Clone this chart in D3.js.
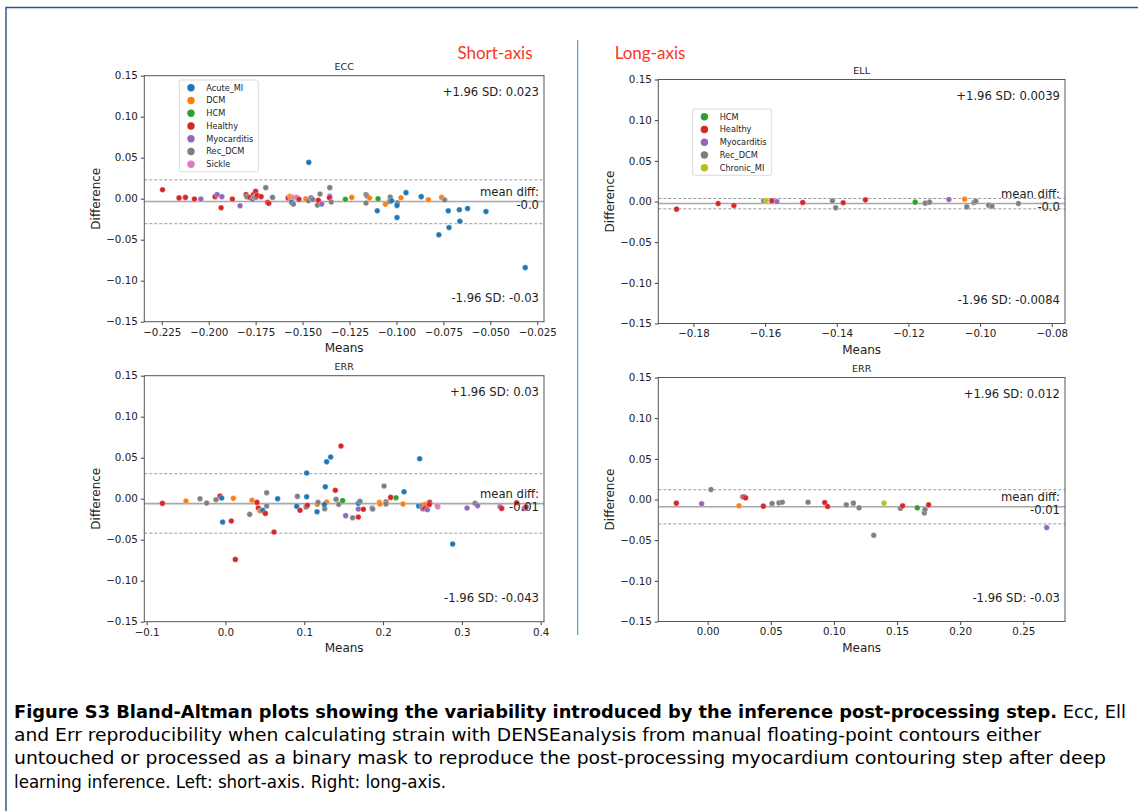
<!DOCTYPE html>
<html lang="en">
<head>
  <meta charset="UTF-8">
  <title>Bland-Altman plots</title>
  <script src="https://d3js.org/d3.v7.min.js"></script>
  <style>
    html, body { margin: 0; background: #fff; }
    svg { display: block; font-family: "DejaVu Sans", sans-serif; }
    .tick text { fill: #222; }
  </style>
</head>
<body>
<svg id="chart" width="1138" height="811"></svg>
<script>
  // group names and matplotlib tab10 colours
  const groupNames = ["Acute_MI", "DCM", "HCM", "Healthy", "Myocarditis", "Rec_DCM", "Sickle", "Chronic_MI"];
  const groupColors = ["#1f77b4", "#ff7f0e", "#2ca02c", "#d62728", "#9467bd", "#7f7f7f", "#e377c2", "#bcbd22"];

  // [group, mean, difference]
  const eccPoints = [
    ["Healthy", -0.2246, 0.011], ["Healthy", -0.2158, 0.001], ["Healthy", -0.2124, 0.0016],
    ["Healthy", -0.2076, -0.0004], ["Myocarditis", -0.2042, -0.0004], ["Healthy", -0.1966, 0.0025],
    ["Myocarditis", -0.1955, 0.005], ["Myocarditis", -0.193, 0.0025], ["Healthy", -0.1934, -0.011],
    ["Healthy", -0.1874, -0.0004], ["Myocarditis", -0.1833, -0.0086], ["Healthy", -0.1801, 0.005],
    ["Rec_DCM", -0.1797, 0.0025], ["Healthy", -0.178, 0.0016], ["Rec_DCM", -0.1767, -0.001],
    ["Healthy", -0.1762, 0.005], ["Healthy", -0.175, 0.009], ["Rec_DCM", -0.1758, 0.002],
    ["Myocarditis", -0.1748, 0.0016], ["Healthy", -0.1742, 0.004], ["Healthy", -0.1721, 0.0025],
    ["Rec_DCM", -0.1696, 0.0135], ["Healthy", -0.1686, -0.0045], ["Healthy", -0.168, -0.0057],
    ["Rec_DCM", -0.166, 0.0016], ["Healthy", -0.1577, 0.001], ["DCM", -0.1567, 0.003],
    ["DCM", -0.1563, 0.0012], ["Sickle", -0.1549, 0.0016], ["Sickle", -0.1531, 0.0016],
    ["Acute_MI", -0.1558, -0.0045], ["Rec_DCM", -0.1549, -0.0066], ["Healthy", -0.1519, -0.0008],
    ["DCM", -0.1483, 0], ["Acute_MI", -0.1467, 0.0443], ["Rec_DCM", -0.1469, -0.0025],
    ["Myocarditis", -0.1455, 0.0012], ["Rec_DCM", -0.1446, -0.001], ["Rec_DCM", -0.1421, -0.0078],
    ["Healthy", -0.1416, -0.002], ["Rec_DCM", -0.1407, 0.0057], ["Myocarditis", -0.1398, -0.0066],
    ["Rec_DCM", -0.1355, 0.0135], ["Myocarditis", -0.1355, 0.0028], ["Healthy", -0.1357, 0.0012],
    ["Rec_DCM", -0.1347, -0.0041], ["HCM", -0.1272, -0.0008], ["DCM", -0.1238, 0.0016],
    ["Rec_DCM", -0.1162, 0.005], ["Rec_DCM", -0.1155, 0.003], ["DCM", -0.1143, 0.0008],
    ["Rec_DCM", -0.1162, -0.0053], ["Acute_MI", -0.1102, -0.0148], ["HCM", -0.1098, 0],
    ["DCM", -0.1059, -0.0066], ["Rec_DCM", -0.1033, 0.002], ["Rec_DCM", -0.1036, -0.0033],
    ["Acute_MI", -0.1026, -0.0025], ["Rec_DCM", -0.0995, -0.005], ["Acute_MI", -0.0997, -0.0082],
    ["Acute_MI", -0.0997, -0.023], ["DCM", -0.0976, 0.0012], ["Acute_MI", -0.0949, 0.0074],
    ["Acute_MI", -0.0868, 0.0025], ["DCM", -0.083, -0.0012], ["DCM", -0.0759, 0.0016],
    ["Rec_DCM", -0.0743, -0.0016], ["Acute_MI", -0.0774, -0.0439], ["Acute_MI", -0.0724, -0.0148],
    ["Acute_MI", -0.072, -0.0352], ["Acute_MI", -0.0665, -0.0135], ["Acute_MI", -0.0662, -0.0275],
    ["Acute_MI", -0.0621, -0.0119], ["Acute_MI", -0.0523, -0.0156], ["Acute_MI", -0.0314, -0.084]
  ];

  const ellPoints = [
    ["Healthy", -0.1847, -0.0094], ["Healthy", -0.1731, -0.0025], ["Healthy", -0.1687, -0.0049],
    ["Rec_DCM", -0.1604, 0.0008], ["Chronic_MI", -0.1597, 0.0012], ["Healthy", -0.1581, 0.0008],
    ["Myocarditis", -0.1567, 0], ["Healthy", -0.1495, -0.0012], ["Rec_DCM", -0.1412, 0.0008],
    ["Rec_DCM", -0.1403, -0.0078], ["Healthy", -0.1382, -0.0016], ["Healthy", -0.132, 0.002],
    ["HCM", -0.1181, -0.0008], ["Rec_DCM", -0.1153, -0.002], ["Rec_DCM", -0.1141, -0.0008],
    ["Myocarditis", -0.1087, 0.0025], ["DCM", -0.1043, 0.0029], ["Rec_DCM", -0.1037, -0.0066],
    ["Rec_DCM", -0.1017, -0.0012], ["Rec_DCM", -0.1012, 0.0004], ["Rec_DCM", -0.0976, -0.0045],
    ["Rec_DCM", -0.0967, -0.0057], ["Rec_DCM", -0.0893, -0.0025]
  ];

  const errShortPoints = [
    ["Healthy", -0.0801, -0.0057], ["DCM", -0.0501, -0.0028], ["Rec_DCM", -0.0323, 0],
    ["Rec_DCM", -0.0239, -0.0053], ["Rec_DCM", -0.012, -0.0012], ["Healthy", -0.0069, 0.0033],
    ["Acute_MI", -0.0048, 0.0008], ["Acute_MI", -0.0036, -0.0285], ["DCM", 0.010, 0.0004],
    ["Healthy", 0.0074, -0.0272], ["Healthy", 0.0125, -0.074], ["Rec_DCM", 0.0307, -0.0191],
    ["DCM", 0.0337, -0.002], ["Healthy", 0.04, -0.0045], ["Healthy", 0.0417, -0.0114],
    ["DCM", 0.0438, -0.015], ["Acute_MI", 0.0472, -0.0142], ["Healthy", 0.0506, -0.0179],
    ["Rec_DCM", 0.0523, 0.0073], ["Rec_DCM", 0.0523, -0.0089], ["Healthy", 0.0616, -0.0407],
    ["Acute_MI", 0.0662, 0], ["Acute_MI", 0.0904, -0.0093], ["Rec_DCM", 0.0912, 0.0028],
    ["Healthy", 0.0946, -0.0142], ["Acute_MI", 0.103, 0.0313], ["Acute_MI", 0.103, 0.0024],
    ["Rec_DCM", 0.1022, -0.0102], ["Healthy", 0.1039, -0.0081], ["Acute_MI", 0.1162, -0.0159],
    ["DCM", 0.1166, -0.0069], ["Rec_DCM", 0.1174, -0.0045], ["Acute_MI", 0.1267, 0.0146],
    ["Acute_MI", 0.1284, 0.0451], ["Acute_MI", 0.1335, 0.0508], ["Rec_DCM", 0.1259, -0.0122],
    ["DCM", 0.1284, -0.0041], ["Acute_MI", 0.1255, -0.007], ["Healthy", 0.1466, 0.0642],
    ["Healthy", 0.1394, 0.0102], ["Rec_DCM", 0.1403, -0.0008], ["Rec_DCM", 0.1437, -0.0069],
    ["HCM", 0.1487, -0.0024], ["Myocarditis", 0.1525, -0.0207], ["Rec_DCM", 0.1614, -0.0232],
    ["Healthy", 0.1686, -0.0224], ["Myocarditis", 0.1686, -0.0126], ["Acute_MI", 0.1686, -0.0057],
    ["Rec_DCM", 0.1707, -0.0033], ["Healthy", 0.175, -0.013], ["Myocarditis", 0.186, -0.0114],
    ["Rec_DCM", 0.1868, -0.0126], ["DCM", 0.1953, -0.0045], ["DCM", 0.1961, -0.0065],
    ["Rec_DCM", 0.2012, 0.0154], ["Rec_DCM", 0.2037, -0.0037], ["Rec_DCM", 0.2037, -0.0065],
    ["Healthy", 0.2096, 0.0016], ["HCM", 0.2164, 0.0012], ["DCM", 0.2253, -0.0065],
    ["Acute_MI", 0.2266, 0.0085], ["Acute_MI", 0.2464, 0.0488], ["Acute_MI", 0.2452, -0.0089],
    ["Rec_DCM", 0.249, -0.0085], ["Myocarditis", 0.2503, -0.0122], ["DCM", 0.2532, -0.0069],
    ["Healthy", 0.2532, -0.0118], ["Myocarditis", 0.2562, -0.0134], ["Healthy", 0.2591, -0.0045],
    ["Healthy", 0.2587, -0.007], ["Rec_DCM", 0.2693, -0.0098], ["Sickle", 0.2689, -0.0085],
    ["Acute_MI", 0.2883, -0.0553], ["Myocarditis", 0.3065, -0.0114], ["Rec_DCM", 0.3167, -0.0057],
    ["Myocarditis", 0.32, -0.0085], ["Myocarditis", 0.3484, -0.0098], ["Healthy", 0.3505, -0.0118],
    ["Healthy", 0.3695, -0.005], ["Myocarditis", 0.3793, -0.0118], ["Healthy", 0.3814, -0.0102]
  ];

  const errLongPoints = [
    ["Healthy", -0.0248, -0.0045], ["Myocarditis", -0.0048, -0.0053], ["Rec_DCM", 0.0026, 0.0123],
    ["DCM", 0.0248, -0.0078], ["Rec_DCM", 0.0277, 0.0033], ["Healthy", 0.029, 0.0029],
    ["Healthy", 0.0301, 0.002], ["Healthy", 0.0441, -0.0082], ["Rec_DCM", 0.051, -0.0049],
    ["Rec_DCM", 0.0565, -0.0041], ["Rec_DCM", 0.0591, -0.0033], ["Rec_DCM", 0.0795, -0.0033],
    ["Healthy", 0.0927, -0.0037], ["Healthy", 0.095, -0.0086], ["Rec_DCM", 0.1098, -0.0066],
    ["Rec_DCM", 0.1154, -0.0045], ["Rec_DCM", 0.1199, -0.0102], ["Rec_DCM", 0.1315, -0.0439],
    ["Chronic_MI", 0.1397, -0.0045], ["Rec_DCM", 0.1526, -0.0107], ["Healthy", 0.1544, -0.0078],
    ["HCM", 0.166, -0.0102], ["Rec_DCM", 0.1716, -0.0164], ["Rec_DCM", 0.1721, -0.0123],
    ["Healthy", 0.175, -0.0066], ["Myocarditis", 0.2685, -0.0344]
  ];

  // [+1.96 SD, mean, -1.96 SD]
  const eccLimits = [0.023, -0.0035, -0.0305];
  const ellLimits = [0.0037, -0.0025, -0.009];
  const errShortLimits = [0.0305, -0.006, -0.042];
  const errLongLimits = [0.012, -0.009, -0.03];

  const eccLabels = ["+1.96 SD: 0.023", "-0.0", "-1.96 SD: -0.03"];
  const ellLabels = ["+1.96 SD: 0.0039", "-0.0", "-1.96 SD: -0.0084"];
  const errShortLabels = ["+1.96 SD: 0.03", "-0.01", "-1.96 SD: -0.043"];
  const errLongLabels = ["+1.96 SD: 0.012", "-0.01", "-1.96 SD: -0.03"];

  // axis limits and ticks
  const eccXLim = [-0.2343, -0.0214];
  const ellXLim = [-0.1898, -0.0763];
  const errShortXLim = [-0.103, 0.4042];
  const errLongXLim = [-0.0391, 0.283];
  const yLim = [-0.15, 0.15];
  const yTicks = [-0.15, -0.10, -0.05, 0, 0.05, 0.10, 0.15];
  const eccXTicks = [-0.225, -0.2, -0.175, -0.15, -0.125, -0.1, -0.075, -0.05, -0.025];
  const ellXTicks = [-0.18, -0.16, -0.14, -0.12, -0.10, -0.08];
  const errShortXTicks = [-0.1, 0, 0.1, 0.2, 0.3, 0.4];
  const errLongXTicks = [0, 0.05, 0.10, 0.15, 0.20, 0.25];

  const shortLegend = ["Acute_MI", "DCM", "HCM", "Healthy", "Myocarditis", "Rec_DCM", "Sickle"];
  const longLegend = ["HCM", "Healthy", "Myocarditis", "Rec_DCM", "Chronic_MI"];

  const captionLines = [
    ["Figure S3 Bland-Altman plots showing the variability introduced by the inference post-processing step.", " Ecc, Ell"],
    ["", "and Err reproducibility when calculating strain with DENSEanalysis from manual floating-point contours either"],
    ["", "untouched or processed as a binary mask to reproduce the post-processing myocardium contouring step after deep"],
    ["", "learning inference. Left: short-axis. Right: long-axis."]
  ];
  const captionWidths = [1112, 1027, 1092, 432];

  const color = d3.scaleOrdinal().domain(groupNames).range(groupColors);
  const minus = s => s.replace(/-/g, "\u2212");

  const svg = d3.select("#chart");
  svg.append("rect").attr("width", 1138).attr("height", 811).attr("fill", "#fff");

  // page frame
  svg.append("path")
    .attr("d", "M6,811 V7.5 H1138")
    .attr("fill", "none").attr("stroke", "#2a5a8c").attr("stroke-width", 1.5);

  // section headings and divider
  svg.append("text").attr("x", 495).attr("y", 59).attr("text-anchor", "middle")
    .style("font-family", "Lato, 'Open Sans', sans-serif").style("font-size", "17px")
    .attr("fill", "#f5381f").text("Short-axis");
  svg.append("text").attr("x", 650).attr("y", 59).attr("text-anchor", "middle")
    .style("font-family", "Lato, 'Open Sans', sans-serif").style("font-size", "17px")
    .attr("fill", "#f5381f").text("Long-axis");
  svg.append("line").attr("x1", 577.7).attr("x2", 577.7).attr("y1", 40).attr("y2", 635)
    .attr("stroke", "#4aa0c8").attr("stroke-width", 1.2);

  function drawPanel(p) {
    const x = d3.scaleLinear().domain(p.xLim).range([p.left, p.right]);
    const y = d3.scaleLinear().domain(yLim).range([p.bottom, p.top]);
    const g = svg.append("g");

    // limit lines
    const [up, mean, low] = p.limits;
    [up, low].forEach(v => {
      g.append("line").attr("x1", p.left).attr("x2", p.right)
        .attr("y1", y(v)).attr("y2", y(v))
        .attr("stroke", "#9a9a9a").attr("stroke-width", 1).attr("stroke-dasharray", "3,2");
    });
    g.append("line").attr("x1", p.left).attr("x2", p.right)
      .attr("y1", y(mean)).attr("y2", y(mean))
      .attr("stroke", "#a8a8a8").attr("stroke-width", 1.6);

    // points
    g.selectAll("circle.pt").data(p.points).enter().append("circle")
      .attr("class", "pt")
      .attr("cx", d => x(d[1])).attr("cy", d => y(d[2])).attr("r", 2.8)
      .attr("fill", d => color(d[0]))
      .attr("stroke", "#fff").attr("stroke-width", 0.3);

    // axes
    const xAxis = g.append("g").attr("transform", `translate(0,${p.bottom})`)
      .call(d3.axisBottom(x).tickValues(p.xTicks).tickSize(3.5).tickPadding(3)
        .tickFormat(v => minus(d3.format(p.xFmt)(v))));
    const yAxis = g.append("g").attr("transform", `translate(${p.left},0)`)
      .call(d3.axisLeft(y).tickValues(yTicks).tickSize(3.5).tickPadding(3)
        .tickFormat(v => minus(d3.format(".2f")(v))));
    [xAxis, yAxis].forEach(a => {
      a.select(".domain").remove();
      a.selectAll(".tick line").attr("stroke", "#444");
      a.selectAll(".tick text").style("font-size", "10.3px").style("font-family", "DejaVu Sans");
    });
    g.append("rect").attr("x", p.left).attr("y", p.top)
      .attr("width", p.right - p.left).attr("height", p.bottom - p.top)
      .attr("fill", "none").attr("stroke", "#555").attr("stroke-width", 1);

    // titles and labels
    g.append("text").attr("x", (p.left + p.right) / 2).attr("y", p.top - 5.5)
      .attr("text-anchor", "middle").style("font-size", "9.5px").attr("fill", "#222").text(p.title);
    g.append("text").attr("x", (p.left + p.right) / 2).attr("y", p.bottom + 30.5)
      .attr("text-anchor", "middle").style("font-size", "12px").attr("fill", "#222").text("Means");
    g.append("text")
      .attr("transform", `translate(${p.left - 49},${(p.top + p.bottom) / 2}) rotate(-90)`)
      .attr("text-anchor", "middle").attr("dy", "0.35em")
      .style("font-size", "12px").attr("fill", "#222").text("Difference");

    // annotations
    const tx = p.right - 5;
    const ann = (yy, t) => g.append("text").attr("x", tx).attr("y", yy)
      .attr("text-anchor", "end").style("font-size", "11.6px").attr("fill", "#222").text(t);
    ann(p.top + 20, p.labels[0]);
    ann(y(mean) - 6, "mean diff:");
    ann(y(mean) + 7, p.labels[1]);
    ann(p.bottom - 19.7, p.labels[2]);

    // legend (only where the panel has one)
    if (!p.legend.length) return;
    const lg = g.append("g").attr("transform", `translate(${p.left + p.legendDx},${p.top + p.legendDy})`);
    const rowH = 12.75;
    lg.append("rect").attr("x", 0).attr("y", 0)
      .attr("width", 79).attr("height", p.legend.length * rowH + 2.5)
      .attr("rx", 2).attr("fill", "#fff").attr("fill-opacity", 0.8)
      .attr("stroke", "#d6d6d6").attr("stroke-width", 0.9);
    p.legend.forEach((name, i) => {
      const cy = 7.7 + i * rowH;
      lg.append("circle").attr("cx", 11.7).attr("cy", cy).attr("r", 3.7).attr("fill", color(name));
      lg.append("text").attr("x", 27).attr("y", cy + 3)
        .style("font-size", "8.2px").attr("fill", "#222").text(name);
    });
  }

  drawPanel({
    left: 144.3, right: 544, top: 75.7, bottom: 321.7, xLim: eccXLim, xTicks: eccXTicks, xFmt: ".3f",
    points: eccPoints, limits: eccLimits, labels: eccLabels, title: "ECC",
    legend: shortLegend, legendDx: 35, legendDy: 4.3
  });
  drawPanel({
    left: 658.3, right: 1065, top: 79.5, bottom: 323.5, xLim: ellXLim, xTicks: ellXTicks, xFmt: ".2f",
    points: ellPoints, limits: ellLimits, labels: ellLabels, title: "ELL",
    legend: longLegend, legendDx: 34.4, legendDy: 29.5
  });
  drawPanel({
    left: 144.3, right: 544, top: 375.7, bottom: 621.7, xLim: errShortXLim, xTicks: errShortXTicks, xFmt: ".1f",
    points: errShortPoints, limits: errShortLimits, labels: errShortLabels, title: "ERR",
    legend: []
  });
  drawPanel({
    left: 658.3, right: 1065, top: 377.5, bottom: 621.5, xLim: errLongXLim, xTicks: errLongXTicks, xFmt: ".2f",
    points: errLongPoints, limits: errLongLimits, labels: errLongLabels, title: "ERR",
    legend: []
  });

  // caption
  const cap = svg.append("g")
    .style("font-family", "'DejaVu Sans Condensed', 'Liberation Sans Narrow', 'DejaVu Sans', sans-serif")
    .style("font-size", "18.5px");
  captionLines.forEach((ln, i) => {
    const t = cap.append("text").attr("x", 14).attr("y", 718 + i * 23.2)
      .attr("textLength", captionWidths[i]).attr("lengthAdjust", "spacingAndGlyphs")
      .attr("fill", "#000");
    if (ln[0]) t.append("tspan").attr("font-weight", "bold").text(ln[0]);
    t.append("tspan").text(ln[1]);
  });
</script>
</body>
</html>
